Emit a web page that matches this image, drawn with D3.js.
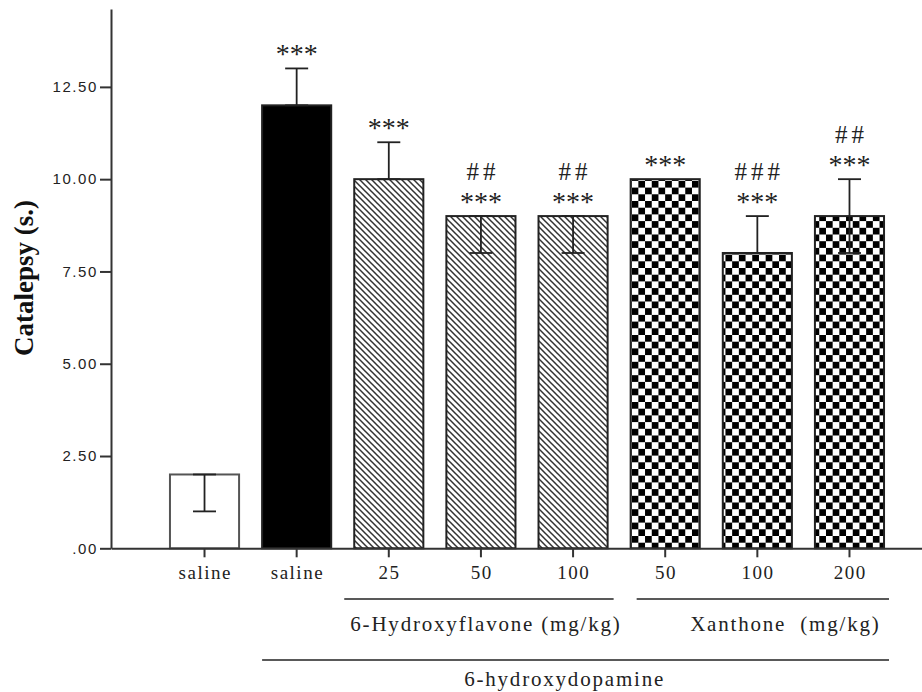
<!DOCTYPE html>
<html>
<head>
<meta charset="utf-8">
<script src="https://cdn.jsdelivr.net/npm/d3@7/dist/d3.min.js"></script>
<style>
  html, body { margin: 0; padding: 0; background: #fff; }
  svg { display: block; }
</style>
</head>
<body>
<svg id="chart" width="922" height="692"></svg>
<script>
// ---- data ----
const categories = ["saline/saline", "6-OHDA/saline", "6-HF 25", "6-HF 50", "6-HF 100", "Xan 50", "Xan 100", "Xan 200"];
const tickLabels = ["saline", "saline", "25", "50", "100", "50", "100", "200"];
const values = [2, 12, 10, 9, 9, 10, 8, 9];
const errLow = [1, 12, 10, 8, 8, 10, 8, 8];
const errHigh = [2, 13, 11, 9, 9, 10, 9, 10];
const stars = ["", "***", "***", "***", "***", "***", "***", "***"];
const hashes = ["", "", "", "##", "##", "", "###", "##"];
const fillKinds = ["white", "black", "hatch", "hatch", "hatch", "checker", "checker", "checker"];
const yTickValues = [0, 2.5, 5, 7.5, 10, 12.5];
const yTickLabels = [".00", "2.50", "5.00", "7.50", "10.00", "12.50"];
const yTitle = "Catalepsy (s.)";
const groupHF = "6-Hydroxyflavone (mg/kg)";
const groupXan = "Xanthone\u00a0\u00a0(mg/kg)";
const groupAll = "6-hydroxydopamine";

// ---- layout ----
const svg = d3.select("#chart");
const axisX0 = 111;
const y = d3.scaleLinear().domain([0, 14.61]).range([548.3, 9]);
const x = d3.scaleBand().domain(categories).range([axisX0, 943]).paddingInner(0.25).paddingOuter(0.64);
const bw = x.bandwidth();
const cx = i => x(categories[i]) + bw / 2;
const serif = "'Liberation Serif', 'Times New Roman', serif";

// patterns
const defs = svg.append("defs");
const hatch = defs.append("pattern").attr("id", "hatch").attr("patternUnits", "userSpaceOnUse")
  .attr("width", 6).attr("height", 6);
hatch.append("rect").attr("width", 6).attr("height", 6).attr("fill", "#fff");
hatch.append("path").attr("d", "M-1,-1 L7,7 M-1,5 L1,7 M5,-1 L7,1")
  .attr("stroke", "#333").attr("stroke-width", 1.5).attr("fill", "none");

const cs = 6.7;
const checker = defs.append("pattern").attr("id", "checker").attr("patternUnits", "userSpaceOnUse")
  .attr("width", cs * 2).attr("height", cs * 2).attr("x", x(categories[5]) + 1).attr("y", 0);
checker.append("rect").attr("width", cs * 2).attr("height", cs * 2).attr("fill", "#fff");
checker.append("rect").attr("width", cs).attr("height", cs).attr("fill", "#000");
checker.append("rect").attr("x", cs).attr("y", cs).attr("width", cs).attr("height", cs).attr("fill", "#000");

const fillOf = k => k === "hatch" ? "url(#hatch)" : k === "checker" ? "url(#checker)" : k;

// bars
svg.append("g").selectAll("rect").data(values).join("rect")
  .attr("x", (d, i) => x(categories[i]))
  .attr("y", d => y(d))
  .attr("width", bw)
  .attr("height", d => y(0) - y(d))
  .attr("fill", (d, i) => fillOf(fillKinds[i]))
  .attr("stroke", (d, i) => fillKinds[i] === "white" ? "#555" : "#222")
  .attr("stroke-width", 2);

// error bars
const eb = svg.append("g").attr("stroke", "#222").attr("stroke-width", 1.8);
values.forEach((v, i) => {
  if (errLow[i] === errHigh[i]) return;
  const c = cx(i), cap = 11.5;
  eb.append("line").attr("x1", c).attr("x2", c).attr("y1", y(errLow[i])).attr("y2", y(errHigh[i]));
  eb.append("line").attr("x1", c - cap).attr("x2", c + cap).attr("y1", y(errHigh[i])).attr("y2", y(errHigh[i]));
  eb.append("line").attr("x1", c - cap).attr("x2", c + cap).attr("y1", y(errLow[i])).attr("y2", y(errLow[i]));
});

// significance marks
const ann = svg.append("g").attr("font-family", serif)
  .attr("fill", "#222").attr("text-anchor", "middle");
values.forEach((v, i) => {
  const top = y(Math.max(v, errHigh[i]));
  if (stars[i]) ann.append("text").attr("x", cx(i)).attr("y", top - 5)
    .attr("font-size", 28).text(stars[i]);
  if (hashes[i]) ann.append("text").attr("x", cx(i) + 2).attr("y", top - 36)
    .attr("font-size", 25).attr("letter-spacing", 4).text(hashes[i]);
});

// y axis
const yAxis = d3.axisLeft(y).tickValues(yTickValues).tickFormat((d, i) => yTickLabels[i])
  .tickSize(11).tickPadding(2).tickSizeOuter(0);
const gy = svg.append("g").attr("transform", `translate(${axisX0},0)`).call(yAxis);
gy.select(".domain").attr("stroke", "#333").attr("stroke-width", 2);
gy.selectAll(".tick line").attr("stroke", "#333").attr("stroke-width", 2);
gy.selectAll(".tick text").attr("font-family", "'Liberation Sans', Arial, sans-serif")
  .attr("font-size", 15).attr("letter-spacing", 1.6).attr("fill", "#222");

// x axis
const xAxis = d3.axisBottom(x).tickFormat((d, i) => tickLabels[i]).tickSize(9).tickPadding(8).tickSizeOuter(0);
const gx = svg.append("g").attr("transform", `translate(0,${y(0)})`).call(xAxis);
gx.select(".domain").attr("stroke", "#333").attr("stroke-width", 2);
gx.selectAll(".tick line").attr("stroke", "#333").attr("stroke-width", 2);
gx.selectAll(".tick text").attr("font-family", serif)
  .attr("font-size", 19).attr("letter-spacing", 1.5).attr("fill", "#222").attr("dx", 0.75);

// y title
svg.append("text").attr("transform", "translate(33,278) rotate(-90)")
  .attr("text-anchor", "middle").attr("font-family", serif)
  .attr("font-weight", "bold").attr("font-size", 27).attr("fill", "#111").text(yTitle);

// group lines and labels
const g = svg.append("g");
const lineY1 = 599, lineY2 = 660;
const hfL = x(categories[2]) - 10, hfR = x(categories[4]) + bw + 6;
const xaL = x(categories[5]) + 6, xaR = x(categories[7]) + bw + 5;
const allL = x(categories[1]), allR = xaR;
g.append("line").attr("x1", hfL).attr("x2", hfR).attr("y1", lineY1).attr("y2", lineY1);
g.append("line").attr("x1", xaL).attr("x2", xaR).attr("y1", lineY1).attr("y2", lineY1);
g.append("line").attr("x1", allL).attr("x2", allR).attr("y1", lineY2).attr("y2", lineY2);
g.selectAll("line").attr("stroke", "#222").attr("stroke-width", 1.6);

const lab = svg.append("g").attr("font-family", serif)
  .attr("font-size", 21).attr("letter-spacing", 1.8).attr("fill", "#222").attr("text-anchor", "middle");
lab.append("text").attr("x", cx(3) + 5).attr("y", 631).text(groupHF);
lab.append("text").attr("x", cx(6) + 28).attr("y", 631).text(groupXan);
lab.append("text").attr("x", (hfL + xaR) / 2 - 52).attr("y", 686).text(groupAll);
</script>
</body>
</html>
